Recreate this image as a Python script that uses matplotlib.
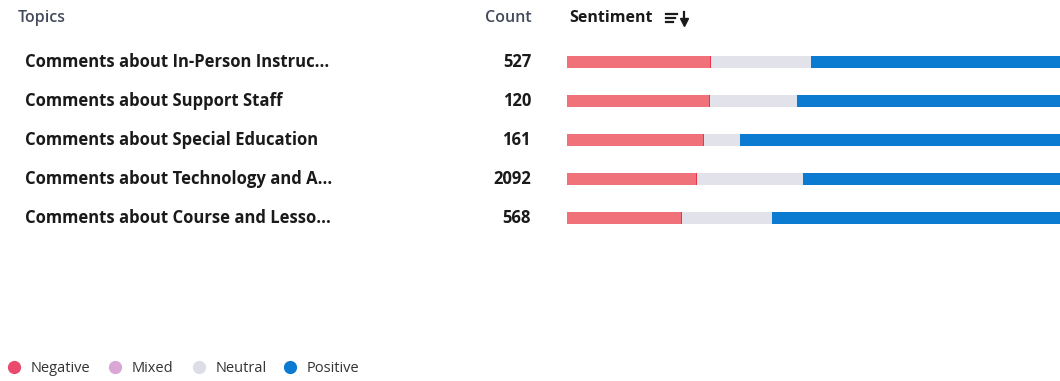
import matplotlib
matplotlib.use("Agg")
import matplotlib.pyplot as plt
import numpy as np

plt.rcParams['font.family'] = ['Open Sans', 'DejaVu Sans']

topics = [
    "Comments about In-Person Instruc...",
    "Comments about Support Staff",
    "Comments about Special Education",
    "Comments about Technology and A...",
    "Comments about Course and Lesso...",
]
counts = [527, 120, 161, 2092, 568]

# sentiment shares per topic (percent)
negative = [29.2, 29.0, 27.8, 26.4, 23.3]
mixed = [0, 0, 0, 0, 0]
neutral = [20.3, 17.6, 7.3, 21.5, 18.3]
positive = [50.5, 53.4, 64.9, 52.1, 58.4]

sentiments = ["Negative", "Mixed", "Neutral", "Positive"]
seg_colors = ["#f07179", "#d9a6d6", "#e2e3ea", "#0b7ad1"]
dot_colors = ["#ea4a6b", "#d9a6d6", "#dcdde6", "#0b7ad1"]

W, H = 1060, 381
fig = plt.figure(figsize=(W / 100, H / 100), dpi=100)


def fx(px):
    return px / W


def fy(py):
    return 1 - py / H


# bar area
ax = fig.add_axes([fx(567), fy(237.5), 1 - fx(567), (237.5 - 42.5) / H])
y = np.arange(len(topics))
left = np.zeros(len(topics))
for vals, col in zip([negative, mixed, neutral, positive], seg_colors):
    vals = np.array(vals, dtype=float)
    ax.barh(y, vals, left=left, height=0.31, color=col, linewidth=0)
    left += vals
# darker edge on the right end of the negative segment
ax.barh(y, [0.25] * len(y), left=np.array(negative) - 0.25, height=0.31,
        color="#e8334f", linewidth=0)
ax.set_xlim(0, 100)
ax.set_ylim(len(topics) - 0.5, -0.5)
ax.axis("off")

# headers
fig.text(fx(18), fy(18), "Topics", fontsize=11.5, fontweight="semibold",
         color="#434a5a", va="center", ha="left")
fig.text(fx(532), fy(18), "Count", fontsize=11.5, fontweight="semibold",
         color="#434a5a", va="center", ha="right")
fig.text(fx(569), fy(18), "Sentiment", fontsize=11.5, fontweight="bold",
         color="#1a1a1a", va="center", ha="left")
# sort icon
for i, ln in enumerate([11, 9, 7]):
    yy = fy(13.5 + i * 4)
    fig.add_artist(plt.Line2D([fx(666), fx(666 + ln)], [yy, yy],
                              color="#1a1a1a", lw=1.6))
fig.add_artist(plt.Line2D([fx(683.5), fx(683.5)], [fy(12), fy(21)],
                          color="#1a1a1a", lw=1.6))
fig.add_artist(plt.Line2D([fx(683.5)], [fy(21.5)], marker="v", markersize=5.5,
                          color="#1a1a1a", linestyle="none"))

# rows
for i, (t, c) in enumerate(zip(topics, counts)):
    yy = fy(62 + 39 * i)
    fig.text(fx(25), yy, t, fontsize=12, fontweight="bold",
             color="#1a1a1a", va="center", ha="left")
    fig.text(fx(531), yy, str(c), fontsize=12, fontweight="bold",
             color="#1a1a1a", va="center", ha="right")

# legend
dot_x = [14, 115, 199, 290]
for name, col, x0 in zip(sentiments, dot_colors, dot_x):
    fig.add_artist(plt.Line2D([fx(x0)], [fy(367)], marker="o", markersize=8.5,
                              color=col, linestyle="none"))
    fig.text(fx(x0 + 17), fy(368), name, fontsize=10.5, color="#333333",
             va="center", ha="left")

fig.savefig("out.png", dpi=100, facecolor="white")
